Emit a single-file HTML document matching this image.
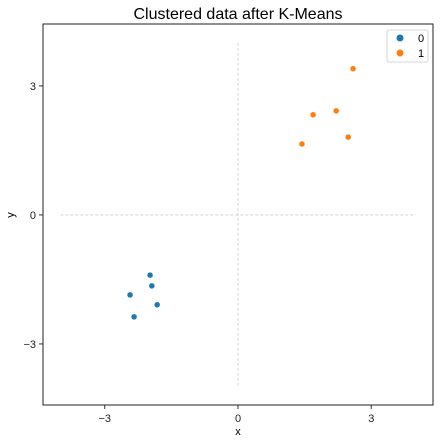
<!DOCTYPE html>
<html><head><meta charset="utf-8"><style>body{margin:0;background:#fff}svg{display:block;font-family:"Liberation Sans",sans-serif}</style></head>
<body>
<svg id="chart" width="440" height="443" viewBox="0 0 440 443"></svg>
<script>
const cluster0X = [-2.43, -1.98, -1.94, -1.82, -2.34];
const cluster0Y = [-1.86, -1.40, -1.65, -2.09, -2.37];
const cluster1X = [2.59, 1.69, 2.21, 2.48, 1.44];
const cluster1Y = [3.40, 2.33, 2.42, 1.81, 1.65];
const tickValues = [-3, 0, 3];
const tickLabels = ["\u22123", "0", "3"];
const legendLabels = ["0", "1"];
const colors = ["#1f77b4", "#ff7f0e"];

const L=43,R=433,T=24,B=405;
const xMin=-4.39,xMax=4.39,yMin=-4.42,yMax=4.44;
const sx=v=>L+(v-xMin)/(xMax-xMin)*(R-L);
const sy=v=>B-(v-yMin)/(yMax-yMin)*(B-T);
const svg=document.getElementById('chart');
const NS='http://www.w3.org/2000/svg';
function mk(tag,attrs,text){const e=document.createElementNS(NS,tag);for(const k in attrs)e.setAttribute(k,attrs[k]);if(text!==undefined)e.textContent=text;svg.appendChild(e);return e;}

let e=mk('text',{x:238,y:19,'text-anchor':'middle','font-size':16},'Clustered data after K-Means');



e=mk('line',{x1:sx(0),x2:sx(0),y1:sy(4),y2:sy(-4),stroke:'#ccc','stroke-width':0.8,'stroke-dasharray':'3,2'});


e=mk('line',{x1:sx(-4),x2:sx(4),y1:sy(0),y2:sy(0),stroke:'#ccc','stroke-width':0.8,'stroke-dasharray':'3,2'});



tickValues.forEach((v,i)=>{
  let t=mk('line',{x1:sx(v),x2:sx(v),y1:B,y2:B+4,stroke:'#333'});
  
  
  t=mk('text',{x:sx(v),y:B+17,'text-anchor':'middle','font-size':11,fill:'#222'},tickLabels[i]);
  
  
  t=mk('line',{x1:L-4,x2:L,y1:sy(v),y2:sy(v),stroke:'#333'});
  
  
  t=mk('text',{x:L-7,y:sy(v)+4,'text-anchor':'end','font-size':11,fill:'#222'},tickLabels[i]);
  
  
});

[[cluster0X,cluster0Y],[cluster1X,cluster1Y]].forEach((c,ci)=>{
  c[0].forEach((xv,i)=>{
    const p=mk('circle',{cx:sx(xv),cy:sy(c[1][i]),r:3,fill:colors[ci],stroke:'#fff','stroke-width':0.5});
    
    
  });
});

e=mk('rect',{x:L,y:T,width:R-L,height:B-T,fill:'none',stroke:'#222','stroke-width':1});



e=mk('text',{x:238,y:435,'text-anchor':'middle','font-size':11},'x');


e=mk('text',{x:14,y:215,'text-anchor':'middle','font-size':11,transform:'rotate(-90 14 215)'},'y');



e=mk('rect',{x:387,y:30,width:41,height:32,rx:2,fill:'#fff',stroke:'#ccc','stroke-width':0.8});


legendLabels.forEach((lab,i)=>{
  let m=mk('circle',{cx:400,cy:38+i*15,r:3.5,fill:colors[i]});
  
  
  m=mk('text',{x:418,y:42+i*15,'font-size':11},lab);
  
  
});
</script>
</body></html>
